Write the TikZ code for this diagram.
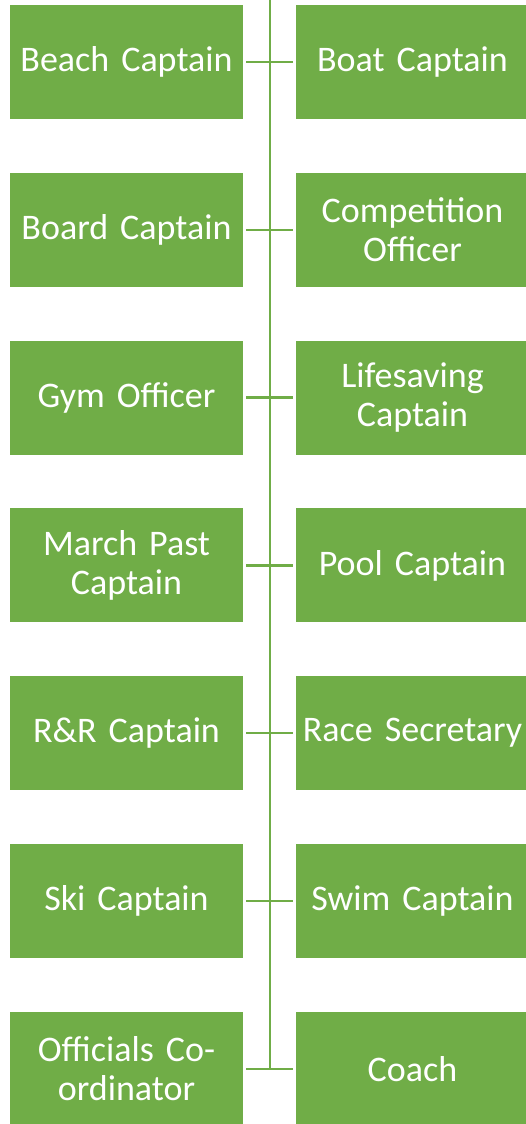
\documentclass[tikz,border=0pt]{standalone}
\usepackage{fontspec}
\setmainfont{Carlito}[WordSpace=0.8]
\usepackage{tikz}

\definecolor{clubgreen}{HTML}{70AD47}
\tikzset{
  rolebox/.style={fill=clubgreen, text=white, minimum width=233pt, minimum height=114pt,
    text width=228pt, align=center, inner sep=0pt, font=\fontsize{36}{39}\selectfont},
  link/.style={draw=clubgreen, line width=2.5pt}
}

\begin{document}
\begin{tikzpicture}[x=1pt,y=-1pt]
        \useasboundingbox (0,0) rectangle (526,1124);
        \clip (0,0) rectangle (526,1124);
        \foreach \i/\ltext/\rtext in {1/Beach Captain/Boat Captain,
            2/Board Captain/Competition\\Officer,
            3/Gym Officer/Lifesaving\\Captain,
            4/March Past\\Captain/Pool Captain,
            5/R\&R Captain/Race Secretary,
            6/Ski Captain/Swim Captain,
            7/Officials Co-\\ordinator/Coach}
        {
            \node[rolebox] (l\i) at (126.5,{62+167.8*(\i-1)}) {\ltext};
            \node[rolebox] (r\i) at (412.5,{62+167.8*(\i-1)}) {\rtext};
            \draw[link] ([xshift=3pt]l\i.east) -- ([xshift=-3pt]r\i.west);
        }
        \coordinate (spine) at (270,0);
        \draw[link] (spine) -- (spine |- l7.east);
    \end{tikzpicture}
\end{document}
